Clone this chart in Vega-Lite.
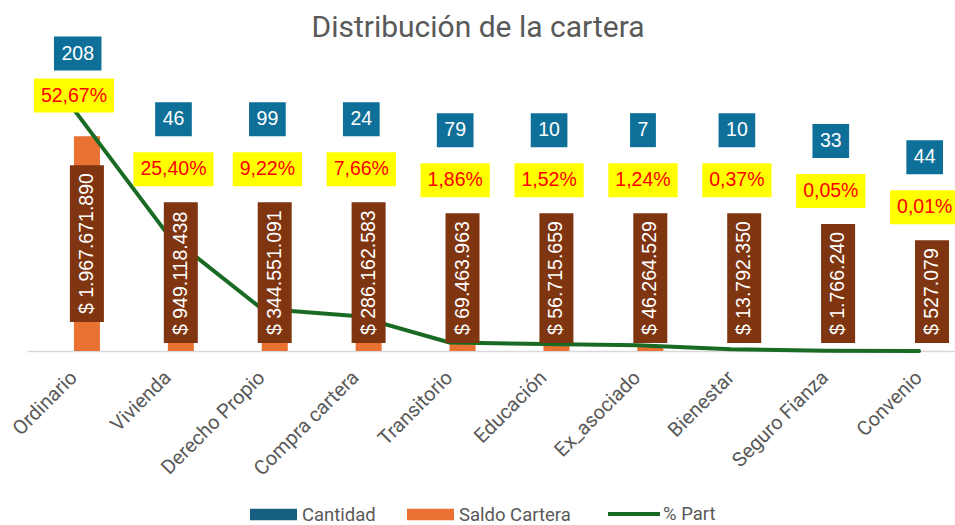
{
  "$schema": "https://vega.github.io/schema/vega-lite/v6.json",
  "width": 928,
  "height": 275,
  "autosize": "none",
  "padding": {"left": 27, "top": 76, "right": 0, "bottom": 174},
  "background": "white",
  "title": {
    "text": "Distribución de la cartera",
    "frame": "group",
    "anchor": "middle",
    "dx": -13,
    "offset": -6,
    "fontSize": 30,
    "font": "Roboto",
    "fontWeight": "normal",
    "color": "#595959"
  },
  "data": {
    "values": [
      {"Linea": "Ordinario", "Cantidad": 208, "Saldo": 1967671890, "Part": 0.5267},
      {"Linea": "Vivienda", "Cantidad": 46, "Saldo": 949118438, "Part": 0.2540},
      {"Linea": "Derecho Propio", "Cantidad": 99, "Saldo": 344551091, "Part": 0.0922},
      {"Linea": "Compra cartera", "Cantidad": 24, "Saldo": 286162583, "Part": 0.0766},
      {"Linea": "Transitorio", "Cantidad": 79, "Saldo": 69463963, "Part": 0.0186},
      {"Linea": "Educación", "Cantidad": 10, "Saldo": 56715659, "Part": 0.0152},
      {"Linea": "Ex_asociado", "Cantidad": 7, "Saldo": 46264529, "Part": 0.0124},
      {"Linea": "Bienestar", "Cantidad": 10, "Saldo": 13792350, "Part": 0.0037},
      {"Linea": "Seguro Fianza", "Cantidad": 33, "Saldo": 1766240, "Part": 0.0005},
      {"Linea": "Convenio", "Cantidad": 44, "Saldo": 527079, "Part": 0.0001}
    ]
  },
  "transform": [
    {"calculate": "format(datum.Saldo, ',.0f')", "as": "sTxt"},
    {"calculate": "length(replace(datum.sTxt, regexp('[^0-9]', 'g'), ''))", "as": "sDig"},
    {"calculate": "10.84 * (datum.sDig + 1) + 5.42 * (length(datum.sTxt) - datum.sDig + 1)", "as": "sW"},
    {"calculate": "10.84 * (length(format(datum.Part, '.2%')) - 2) + 22.76", "as": "pW"},
    {"calculate": "10.84 * length(format(datum.Cantidad, 'd'))", "as": "cW"},
    {"calculate": "datum.Saldo / 2", "as": "mid"}
  ],
  "resolve": {"scale": {"y": "independent"}},
  "layer": [
    {
      "transform": [{"fold": ["Cantidad", "Saldo"], "as": ["Serie", "Valor"]}],
      "mark": {"type": "bar"},
      "encoding": {
        "x": {"field": "Linea", "type": "nominal", "sort": null, "scale": {"paddingInner": 0, "paddingOuter": 0, "rangeMax": 939}},
        "xOffset": {"field": "Serie", "type": "nominal", "sort": null, "scale": {"domain": ["Cantidad", "Saldo"], "paddingInner": 0, "paddingOuter": 0.806}},
        "y": {"field": "Valor", "type": "quantitative", "scale": {"domain": [0, 2520000000]}, "axis": null},
        "fill": {
          "field": "Serie",
          "type": "nominal",
          "scale": {"domain": ["Cantidad", "Saldo"], "range": ["#156082", "#E97132"]},
          "legend": {
            "orient": "none",
            "legendX": 223,
            "legendY": 415,
            "direction": "horizontal",
            "title": null,
            "labelFont": "Roboto",
            "labelFontSize": 18.5,
            "labelColor": "#595959",
            "symbolSize": 2209,
            "symbolType": "M-1,-0.245L1,-0.245L1,0.245L-1,0.245Z",
            "symbolStrokeWidth": 0,
            "labelOffset": 5,
            "columnPadding": 31,
            "labelExpr": "datum.label === 'Saldo' ? 'Saldo Cartera' : datum.label"
          }
        }
      }
    },
    {
      "mark": {"type": "line", "strokeWidth": 4, "interpolate": "linear", "strokeCap": "round", "strokeJoin": "round"},
      "encoding": {
        "x": {"field": "Linea", "type": "nominal", "sort": null},
        "y": {"field": "Part", "type": "quantitative", "scale": {"domain": [0, 0.6]}, "axis": null},
        "stroke": {
          "datum": "% Part",
          "scale": {"domain": ["% Part"], "range": ["#196B24"]},
          "legend": {
            "orient": "none",
            "legendX": 579,
            "legendY": 410,
            "title": null,
            "labelFont": "Roboto",
            "labelFontSize": 18.5,
            "labelColor": "#595959",
            "symbolType": "stroke",
            "symbolSize": 2704,
            "symbolStrokeWidth": 4,
            "labelOffset": 1
          }
        }
      }
    },
    {
      "transform": [{"filter": "datum.Linea !== 'Ordinario'"}],
      "mark": {"type": "rect", "color": "#7F3510", "xOffset": -17, "x2Offset": 17, "yOffset": -8, "y2Offset": {"expr": "-(24 + datum.sW)"}},
      "encoding": {
        "x": {"field": "Linea", "type": "nominal", "sort": null, "bandPosition": 0.638},
        "x2": {"field": "Linea", "bandPosition": 0.638},
        "y": {"datum": 0, "type": "quantitative", "scale": {"domain": [0, 2520000000]}, "axis": null},
        "y2": {"datum": 0}
      }
    },
    {
      "transform": [{"filter": "datum.Linea !== 'Ordinario'"}],
      "mark": {"type": "text", "angle": 270, "align": "left", "baseline": "middle", "font": "Liberation Sans", "fontSize": 19.5, "color": "white", "yOffset": -16},
      "encoding": {
        "x": {"field": "Linea", "type": "nominal", "sort": null, "bandPosition": 0.638},
        "y": {"datum": 0, "type": "quantitative", "scale": {"domain": [0, 2520000000]}, "axis": null},
        "text": {"field": "Saldo", "type": "quantitative", "format": "$,.0f"}
      }
    },
    {
      "transform": [{"filter": "datum.Linea === 'Ordinario'"}],
      "mark": {"type": "rect", "color": "#7F3510", "xOffset": -17, "x2Offset": 17, "yOffset": {"expr": "datum.sW / 2 + 8"}, "y2Offset": {"expr": "-(datum.sW / 2 + 8)"}},
      "encoding": {
        "x": {"field": "Linea", "type": "nominal", "sort": null, "bandPosition": 0.638},
        "x2": {"field": "Linea", "bandPosition": 0.638},
        "y": {"field": "mid", "type": "quantitative", "scale": {"domain": [0, 2520000000]}, "axis": null},
        "y2": {"field": "mid"}
      }
    },
    {
      "transform": [{"filter": "datum.Linea === 'Ordinario'"}],
      "mark": {"type": "text", "angle": 270, "align": "center", "baseline": "middle", "font": "Liberation Sans", "fontSize": 19.5, "color": "white"},
      "encoding": {
        "x": {"field": "Linea", "type": "nominal", "sort": null, "bandPosition": 0.638},
        "y": {"field": "mid", "type": "quantitative", "scale": {"domain": [0, 2520000000]}, "axis": null},
        "text": {"field": "Saldo", "type": "quantitative", "format": "$,.0f"}
      }
    },
    {
      "transform": [{"filter": "datum.Linea !== 'Ordinario'"}],
      "mark": {"type": "rect", "color": "#FFFF00", "xOffset": {"expr": "-(datum.pW / 2 + 7)"}, "x2Offset": {"expr": "datum.pW / 2 + 7"}, "yOffset": {"expr": "-(40 + datum.sW)"}, "y2Offset": {"expr": "-(74 + datum.sW)"}},
      "encoding": {
        "x": {"field": "Linea", "type": "nominal", "sort": null, "bandPosition": 0.56},
        "x2": {"field": "Linea", "bandPosition": 0.56},
        "y": {"datum": 0, "type": "quantitative", "scale": {"domain": [0, 2520000000]}, "axis": null},
        "y2": {"datum": 0}
      }
    },
    {
      "transform": [{"filter": "datum.Linea !== 'Ordinario'"}],
      "mark": {"type": "text", "align": "center", "baseline": "middle", "font": "Liberation Sans", "fontSize": 19.5, "color": "#FF0000", "yOffset": {"expr": "-(57 + datum.sW)"}},
      "encoding": {
        "x": {"field": "Linea", "type": "nominal", "sort": null, "bandPosition": 0.56},
        "y": {"datum": 0, "type": "quantitative", "scale": {"domain": [0, 2520000000]}, "axis": null},
        "text": {"field": "Part", "type": "quantitative", "format": ".2%"}
      }
    },
    {
      "transform": [{"filter": "datum.Linea !== 'Ordinario'"}],
      "mark": {"type": "rect", "color": "#0E7099", "xOffset": {"expr": "-(datum.cW / 2 + 7.5)"}, "x2Offset": {"expr": "datum.cW / 2 + 7.5"}, "yOffset": {"expr": "-(90 + datum.sW)"}, "y2Offset": {"expr": "-(124 + datum.sW)"}},
      "encoding": {
        "x": {"field": "Linea", "type": "nominal", "sort": null, "bandPosition": 0.56},
        "x2": {"field": "Linea", "bandPosition": 0.56},
        "y": {"datum": 0, "type": "quantitative", "scale": {"domain": [0, 2520000000]}, "axis": null},
        "y2": {"datum": 0}
      }
    },
    {
      "transform": [{"filter": "datum.Linea !== 'Ordinario'"}],
      "mark": {"type": "text", "align": "center", "baseline": "middle", "font": "Liberation Sans", "fontSize": 19.5, "color": "white", "yOffset": {"expr": "-(107 + datum.sW)"}},
      "encoding": {
        "x": {"field": "Linea", "type": "nominal", "sort": null, "bandPosition": 0.56},
        "y": {"datum": 0, "type": "quantitative", "scale": {"domain": [0, 2520000000]}, "axis": null},
        "text": {"field": "Cantidad", "type": "quantitative", "format": "d"}
      }
    },
    {
      "transform": [{"filter": "datum.Linea === 'Ordinario'"}],
      "mark": {"type": "rect", "color": "#FFFF00", "xOffset": {"expr": "-(datum.pW / 2 + 7)"}, "x2Offset": {"expr": "datum.pW / 2 + 7"}, "yOffset": 3, "y2Offset": -31},
      "encoding": {
        "x": {"field": "Linea", "type": "nominal", "sort": null, "bandPosition": 0.5},
        "x2": {"field": "Linea", "bandPosition": 0.5},
        "y": {"field": "Part", "type": "quantitative", "scale": {"domain": [0, 0.6]}, "axis": null},
        "y2": {"field": "Part"}
      }
    },
    {
      "transform": [{"filter": "datum.Linea === 'Ordinario'"}],
      "mark": {"type": "text", "align": "center", "baseline": "middle", "font": "Liberation Sans", "fontSize": 19.5, "color": "#FF0000", "yOffset": -14},
      "encoding": {
        "x": {"field": "Linea", "type": "nominal", "sort": null, "bandPosition": 0.5},
        "y": {"field": "Part", "type": "quantitative", "scale": {"domain": [0, 0.6]}, "axis": null},
        "text": {"field": "Part", "type": "quantitative", "format": ".2%"}
      }
    },
    {
      "transform": [{"filter": "datum.Linea === 'Ordinario'"}],
      "mark": {"type": "rect", "color": "#0E7099", "xOffset": {"expr": "-(datum.cW / 2 + 7.5)"}, "x2Offset": {"expr": "datum.cW / 2 + 7.5"}, "yOffset": -39, "y2Offset": -73},
      "encoding": {
        "x": {"field": "Linea", "type": "nominal", "sort": null, "bandPosition": 0.54},
        "x2": {"field": "Linea", "bandPosition": 0.54},
        "y": {"field": "Part", "type": "quantitative", "scale": {"domain": [0, 0.6]}, "axis": null},
        "y2": {"field": "Part"}
      }
    },
    {
      "transform": [{"filter": "datum.Linea === 'Ordinario'"}],
      "mark": {"type": "text", "align": "center", "baseline": "middle", "font": "Liberation Sans", "fontSize": 19.5, "color": "white", "yOffset": -56},
      "encoding": {
        "x": {"field": "Linea", "type": "nominal", "sort": null, "bandPosition": 0.54},
        "y": {"field": "Part", "type": "quantitative", "scale": {"domain": [0, 0.6]}, "axis": null},
        "text": {"field": "Cantidad", "type": "quantitative", "format": "d"}
      }
    }
  ],
  "config": {
    "locale": {"number": {"decimal": ",", "thousands": ".", "grouping": [3], "currency": ["$ ", ""]}},
    "view": {"stroke": null},
    "axisX": {
      "title": null,
      "labelAngle": -45,
      "labelFont": "Roboto",
      "labelFontSize": 20,
      "labelColor": "#595959",
      "labelOffset": -7,
      "ticks": false,
      "grid": false,
      "domainColor": "#D9D9D9",
      "domainWidth": 1.5,
      "labelPadding": 16
    }
  }
}
